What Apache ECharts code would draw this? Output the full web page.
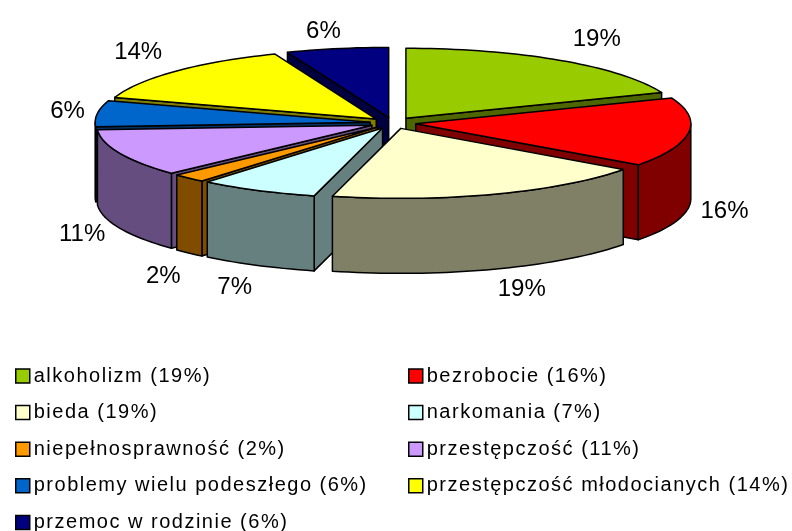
<!DOCTYPE html>
<html>
<head>
<meta charset="utf-8">
<style>
    html, body { margin: 0; padding: 0; background: #fff; overflow: hidden; }
    #pieChart { width: 792px; height: 531px; }
</style>
<script src="https://cdn.jsdelivr.net/npm/echarts@6/dist/echarts.min.js"></script>
</head>
<body>
<div id="pieChart"></div>
<script>
    var categories = ['alkoholizm', 'bezrobocie', 'bieda', 'narkomania', 'niepełnosprawność', 'przestępczość', 'problemy wielu podeszłego', 'przestępczość młodocianych', 'przemoc w rodzinie'];
    var values = [19, 16, 19, 7, 2, 11, 6, 14, 6];
    var topColors = ['#99CC00', '#FF0000', '#FFFFCC', '#CCFFFF', '#FF9900', '#CC99FF', '#0066CC', '#FFFF00', '#000080'];
    var sideColors = ['#4D6600', '#800000', '#808066', '#668080', '#804D00', '#664D80', '#003366', '#808000', '#000040'];
    // small corrections of the percent labels, in pixels
    var labelNudge = [[5, -3], [-4, 1], [1, -1], [6, 2], [8, 7], [1, -2], [10, 1], [-3, -4], [10, 4]];

    // pie geometry, the library has no 3d pie so it is projected by hand
    var cx = 393, cy = 123, rx = 275, ry = 70, depth = 75, explodeX = 23, explodeY = 5.7;
    var legendFontSize = 20;

    // legend text in the picture is spaced out, zrender has no option for that
    var fillText = CanvasRenderingContext2D.prototype.fillText;
    CanvasRenderingContext2D.prototype.fillText = function (s, x, y) {
        this.letterSpacing = this.font.indexOf(legendFontSize + 'px') >= 0 ? '1.5px' : '0px';
        return fillText.call(this, s, x, y);
    };

    var total = values.reduce(function (a, b) { return a + b; }, 0);
    var slices = [];
    var sum = 0;
    for (var i = 0; i < values.length; i++) {
        var a = sum / total * Math.PI * 2;
        sum += values[i];
        var b = sum / total * Math.PI * 2;
        slices.push({ index: i, start: a, end: b, mid: (a + b) / 2 });
    }

    function rimPoint(ox, oy, angle, drop) {
        return [ox + Math.sin(angle) * rx, oy - Math.cos(angle) * ry + (drop || 0)];
    }

    function arcPoints(ox, oy, from, to, drop) {
        var pts = [];
        var steps = Math.max(2, Math.ceil((to - from) / 0.03));
        for (var k = 0; k <= steps; k++) {
            pts.push(rimPoint(ox, oy, from + (to - from) * k / steps, drop));
        }
        return pts;
    }

    function poly(points, color) {
        return {
            type: 'polygon',
            silent: true,
            shape: { points: points },
            style: { fill: color, stroke: '#000', lineWidth: 1.5, lineJoin: 'round' }
        };
    }

    function face(ox, oy, angle, color) {
        var p = rimPoint(ox, oy, angle);
        return poly([[ox, oy], p, [p[0], p[1] + depth], [ox, oy + depth]], color);
    }

    function drawSlice(s) {
        var ox = cx + Math.sin(s.mid) * explodeX;
        var oy = cy - Math.cos(s.mid) * explodeY;
        var side = sideColors[s.index];
        var children = [];

        // radial faces that look towards the viewer
        if (Math.sin(s.start) < 0) children.push(face(ox, oy, s.start, side));
        if (Math.sin(s.end) > 0) children.push(face(ox, oy, s.end, side));

        // outer wall, front half only
        var from = Math.max(s.start, Math.PI / 2);
        var to = Math.min(s.end, Math.PI * 1.5);
        if (to > from) {
            var upper = arcPoints(ox, oy, from, to, 0);
            var lower = arcPoints(ox, oy, from, to, depth).reverse();
            children.push(poly(upper.concat(lower), side));
        }

        children.push(poly([[ox, oy]].concat(arcPoints(ox, oy, s.start, s.end, 0)), topColors[s.index]));

        // percent label just outside of the rim
        var front = Math.cos(s.mid) < 0;
        var anchor = rimPoint(ox, oy, s.mid, front ? depth : 0);
        var sign = Math.sin(s.mid) >= 0 ? 1 : -1;
        children.push({
            type: 'text',
            silent: true,
            style: {
                x: anchor[0] + sign * 20 + Math.sin(s.mid) * 20 + labelNudge[s.index][0],
                y: anchor[1] - Math.cos(s.mid) * 22 + labelNudge[s.index][1],
                text: values[s.index] + '%',
                fill: '#000',
                font: '24px "Liberation Sans", Arial, sans-serif',
                align: 'center',
                verticalAlign: 'middle'
            }
        });
        return { type: 'group', children: children };
    }

    function legendName(i) {
        return categories[i] + ' (' + values[i] + '%)';
    }

    // back slices first so the front ones cover them
    var order = slices.slice().sort(function (p, q) {
        return Math.cos(q.mid) - Math.cos(p.mid);
    });

    var series = order.map(function (s) {
        return {
            type: 'custom',
            name: legendName(s.index),
            coordinateSystem: 'none',
            animation: false,
            silent: true,
            itemStyle: { color: topColors[s.index] },
            data: [values[s.index]],
            renderItem: function () { return drawSlice(s); }
        };
    });

    function legendOption(left, names) {
        return {
            left: left,
            top: 366,
            height: 220,
            orient: 'vertical',
            selectedMode: false,
            icon: 'rect',
            itemWidth: 14,
            itemHeight: 14,
            itemGap: 16.6,
            padding: 0,
            itemStyle: { borderColor: '#000', borderWidth: 1.5 },
            textStyle: { fontFamily: '"Liberation Sans", Arial, sans-serif', fontSize: legendFontSize, color: '#000', padding: [0, 0, 0, -1] },
            data: names
        };
    }

    var leftNames = [], rightNames = [];
    for (var n = 0; n < categories.length; n++) {
        (n % 2 == 0 ? leftNames : rightNames).push(legendName(n));
    }

    var myChart = echarts.init(document.getElementById('pieChart'));
    myChart.setOption({
        backgroundColor: '#fff',
        animation: false,
        legend: [legendOption(15, leftNames), legendOption(408, rightNames)],
        series: series
    });
</script>
</body>
</html>
